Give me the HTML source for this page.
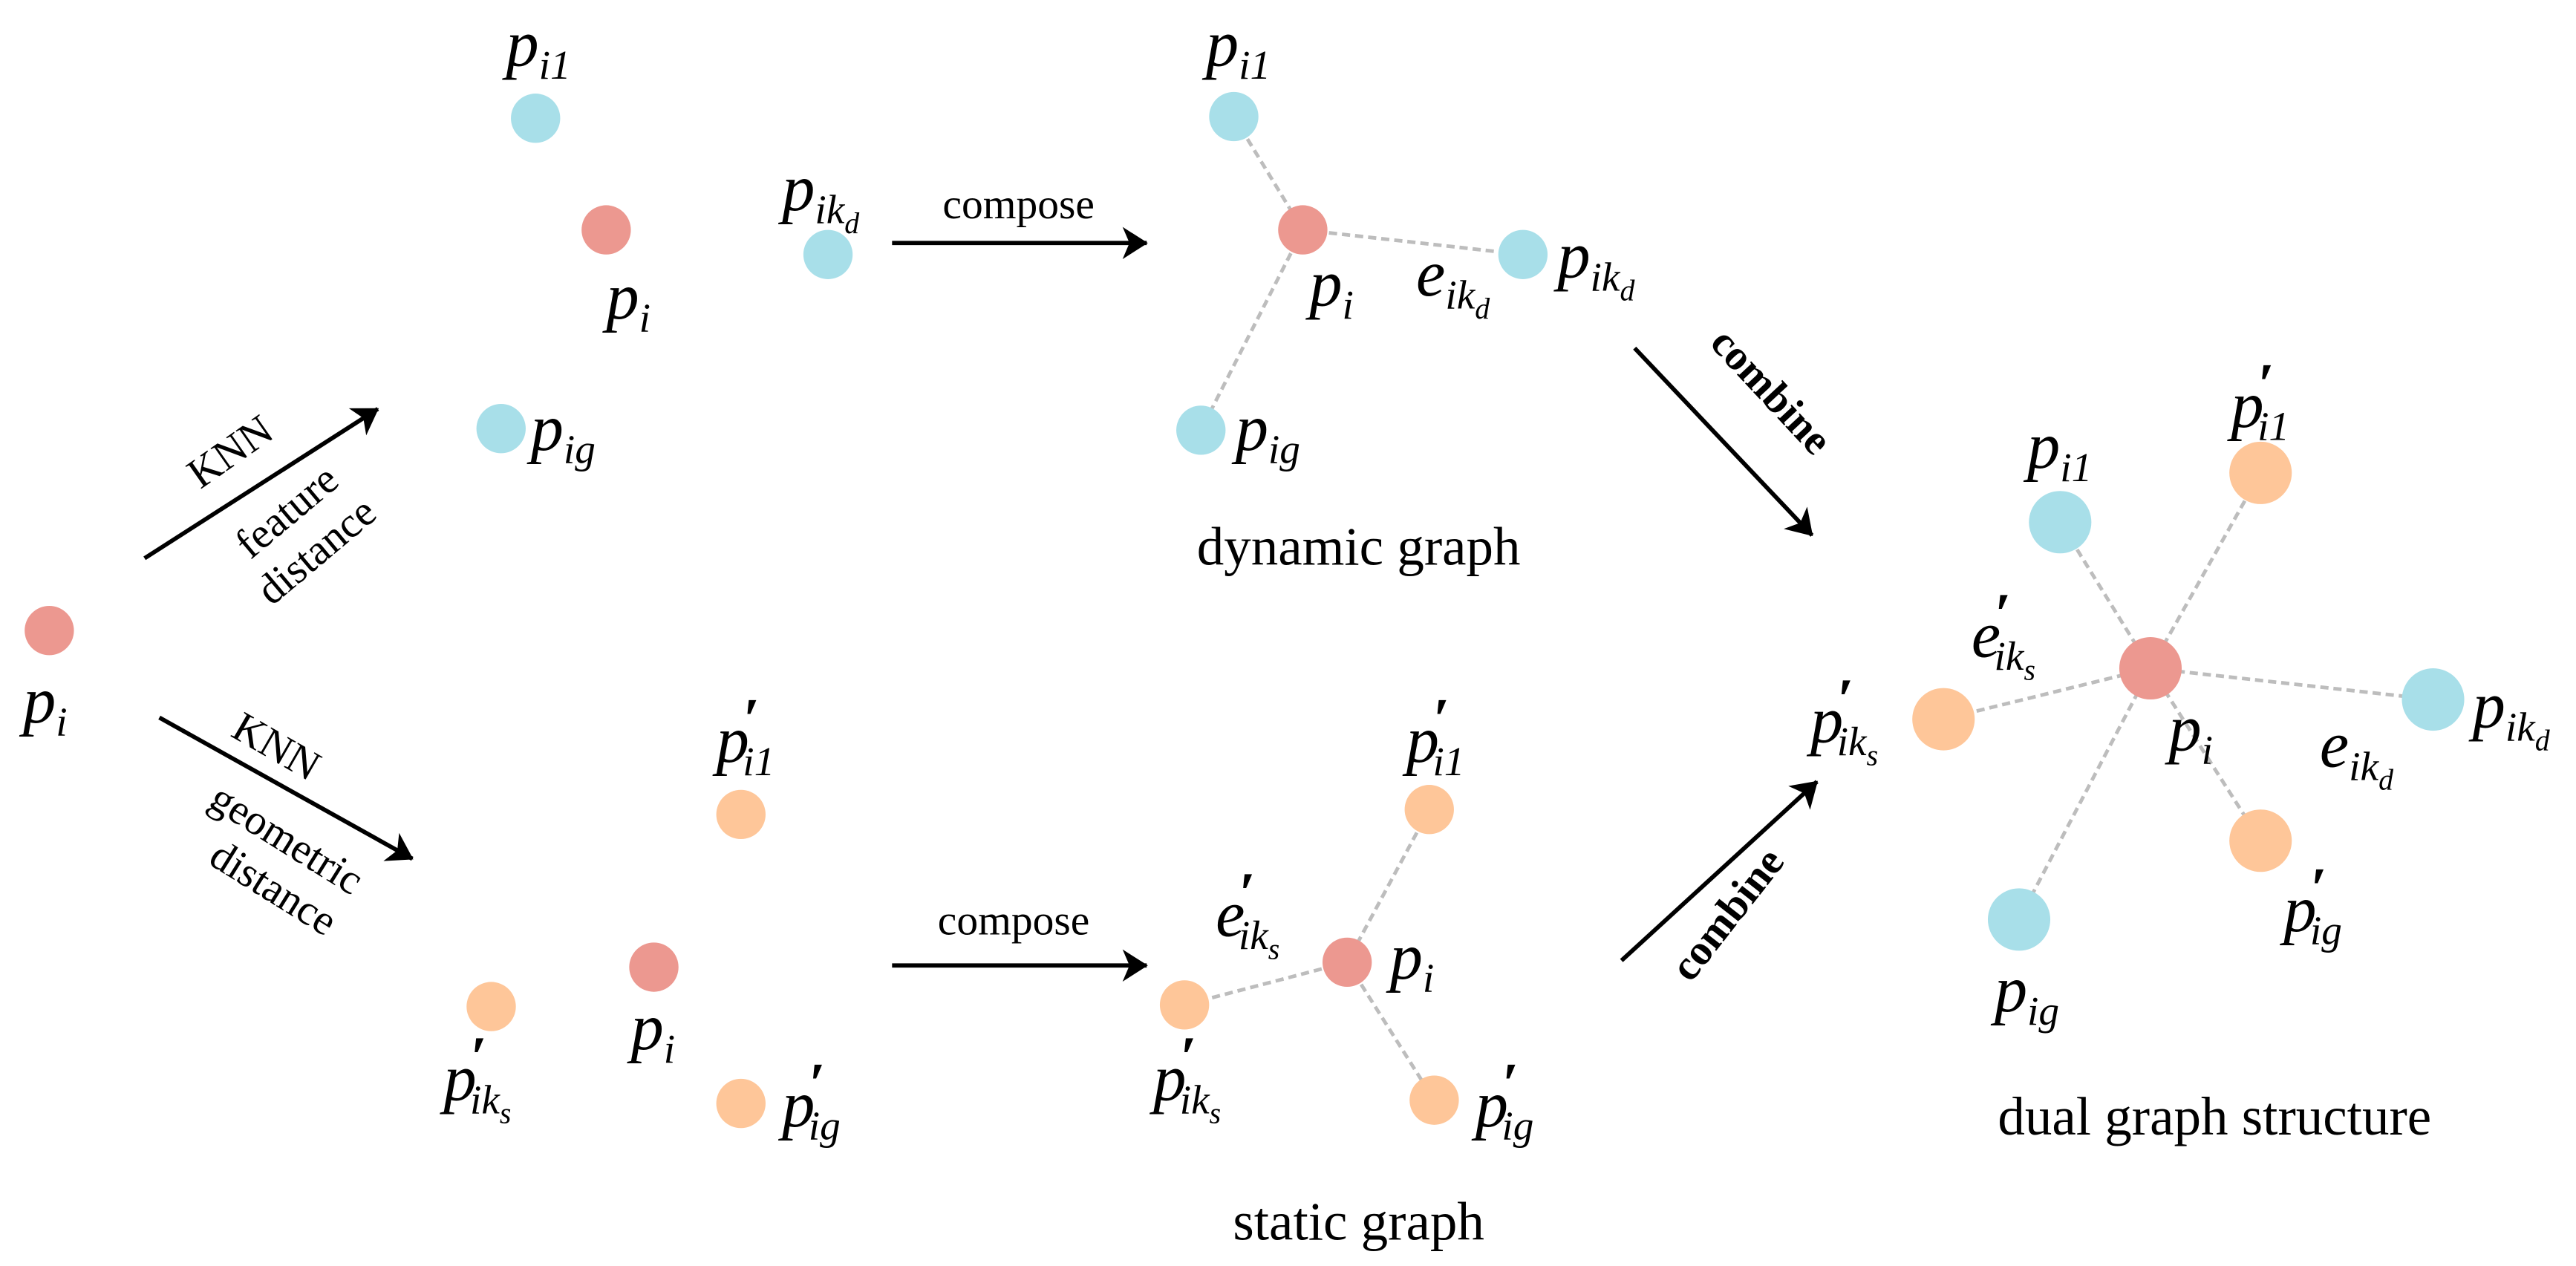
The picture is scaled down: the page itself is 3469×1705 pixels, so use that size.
<!DOCTYPE html>
<html><head><meta charset="utf-8"><style>
html,body{margin:0;padding:0;background:#fff;}
svg{display:block;}
text{font-family:"Liberation Serif","DejaVu Serif",serif;fill:#000;}
.m{font-style:italic;font-size:40px;}
.s{font-size:25px;}
.ss{font-size:18px;}
.pr{font-size:36px;font-weight:bold;}
.t{font-size:33px;}
.sm{font-size:26px;}
.d{stroke:#bdbdbd;stroke-width:2.2;stroke-dasharray:5 3;fill:none;}
.b{fill:#a8dfe9}.r{fill:#ec9890}.o{fill:#fec699}
.a{stroke:#000;stroke-width:2.6;fill:none;marker-end:url(#ah);}
</style></head><body>
<svg width="3469" height="1705" viewBox="0 0 1568 771" preserveAspectRatio="none">
<defs><marker id="ah" viewBox="0 0 10 10" refX="9" refY="5" markerWidth="7" markerHeight="7" orient="auto" markerUnits="userSpaceOnUse" style="overflow:visible"><path d="M-12,-9 L10,5 L-12,19 L-6,5 z" fill="#000"/></marker></defs>

<circle class="r" cx="30" cy="384" r="15"/>
<text class="m" x="14" y="440">p<tspan class="s" dy="8">i</tspan></text>

<line class="a" x1="88" y1="340" x2="230" y2="249"/>
<text class="sm" transform="translate(145,282) rotate(-35)" text-anchor="middle">KNN</text>
<text class="sm" transform="translate(180,318) rotate(-40)" text-anchor="middle">feature</text>
<text class="sm" transform="translate(198,342) rotate(-40)" text-anchor="middle">distance</text>
<line class="a" x1="97" y1="437" x2="251" y2="523"/>
<text class="sm" transform="translate(164,462) rotate(30)" text-anchor="middle">KNN</text>
<text class="sm" transform="translate(170,518) rotate(32)" text-anchor="middle">geometric</text>
<text class="sm" transform="translate(162,548) rotate(32)" text-anchor="middle">distance</text>

<circle class="b" cx="326" cy="72" r="15"/>
<text class="m" x="308" y="40">p<tspan class="s" dy="8">i1</tspan></text>
<circle class="r" cx="369" cy="140" r="15"/>
<text class="m" x="369" y="194">p<tspan class="s" dy="8">i</tspan></text>
<circle class="b" cx="504" cy="155" r="15"/>
<text class="m" x="476" y="128">p<tspan class="s" dy="8">ik</tspan><tspan class="ss" dy="6">d</tspan></text>
<circle class="b" cx="305" cy="261" r="15"/>
<text class="m" x="323" y="274">p<tspan class="s" dy="8">ig</tspan></text>

<line class="a" x1="543" y1="148" x2="698" y2="148"/>
<text class="sm" x="620" y="133" text-anchor="middle">compose</text>

<line class="d" x1="751" y1="71" x2="793" y2="140"/>
<line class="d" x1="793" y1="140" x2="927" y2="155"/>
<line class="d" x1="793" y1="140" x2="731" y2="262"/>
<circle class="b" cx="751" cy="71" r="15"/>
<text class="m" x="734" y="40">p<tspan class="s" dy="8">i1</tspan></text>
<circle class="r" cx="793" cy="140" r="15"/>
<text class="m" x="797" y="186">p<tspan class="s" dy="8">i</tspan></text>
<circle class="b" cx="927" cy="155" r="15"/>
<text class="m" x="948" y="169">p<tspan class="s" dy="8">ik</tspan><tspan class="ss" dy="6">d</tspan></text>
<text class="m" x="862" y="180">e<tspan class="s" dy="8">ik</tspan><tspan class="ss" dy="6">d</tspan></text>
<circle class="b" cx="731" cy="262" r="15"/>
<text class="m" x="752" y="274">p<tspan class="s" dy="8">ig</tspan></text>
<text class="t" x="827" y="344" text-anchor="middle">dynamic graph</text>

<circle class="o" cx="451" cy="496" r="15"/>
<text class="m" x="436" y="464">p<tspan class="pr" dx="-4" dy="-14">′</tspan><tspan class="s" dx="-10" dy="22">i1</tspan></text>
<circle class="r" cx="398" cy="589" r="15"/>
<text class="m" x="384" y="639">p<tspan class="s" dy="8">i</tspan></text>
<circle class="o" cx="299" cy="613" r="15"/>
<text class="m" x="270" y="670">p<tspan class="pr" dx="-4" dy="-14">′</tspan><tspan class="s" dx="-10" dy="22">ik</tspan><tspan class="ss" dy="6">s</tspan></text>
<circle class="o" cx="451" cy="672" r="15"/>
<text class="m" x="476" y="686">p<tspan class="pr" dx="-4" dy="-14">′</tspan><tspan class="s" dx="-10" dy="22">ig</tspan></text>

<line class="a" x1="543" y1="588" x2="698" y2="588"/>
<text class="sm" x="617" y="569" text-anchor="middle">compose</text>

<line class="d" x1="870" y1="493" x2="820" y2="586"/>
<line class="d" x1="820" y1="586" x2="721" y2="612"/>
<line class="d" x1="820" y1="586" x2="873" y2="670"/>
<circle class="o" cx="870" cy="493" r="15"/>
<text class="m" x="856" y="464">p<tspan class="pr" dx="-4" dy="-14">′</tspan><tspan class="s" dx="-10" dy="22">i1</tspan></text>
<circle class="r" cx="820" cy="586" r="15"/>
<text class="m" x="846" y="596">p<tspan class="s" dy="8">i</tspan></text>
<circle class="o" cx="721" cy="612" r="15"/>
<text class="m" x="702" y="670">p<tspan class="pr" dx="-4" dy="-14">′</tspan><tspan class="s" dx="-10" dy="22">ik</tspan><tspan class="ss" dy="6">s</tspan></text>
<circle class="o" cx="873" cy="670" r="15"/>
<text class="m" x="898" y="686">p<tspan class="pr" dx="-4" dy="-14">′</tspan><tspan class="s" dx="-10" dy="22">ig</tspan></text>
<text class="m" x="740" y="570">e<tspan class="pr" dx="-4" dy="-14">′</tspan><tspan class="s" dx="-10" dy="22">ik</tspan><tspan class="ss" dy="6">s</tspan></text>
<text class="t" x="827" y="755" text-anchor="middle">static graph</text>

<line class="a" x1="995" y1="212" x2="1103" y2="326"/>
<text class="sm" font-weight="bold" transform="translate(1072,244) rotate(47)" text-anchor="middle">combine</text>
<line class="a" x1="987" y1="585" x2="1106" y2="476"/>
<text class="sm" font-weight="bold" transform="translate(1058,562) rotate(-52)" text-anchor="middle">combine</text>

<line class="d" x1="1309" y1="407" x2="1254" y2="318"/>
<line class="d" x1="1309" y1="407" x2="1376" y2="288"/>
<line class="d" x1="1309" y1="407" x2="1481" y2="426"/>
<line class="d" x1="1309" y1="407" x2="1376" y2="512"/>
<line class="d" x1="1309" y1="407" x2="1229" y2="560"/>
<line class="d" x1="1309" y1="407" x2="1183" y2="438"/>
<circle class="b" cx="1254" cy="318" r="19"/>
<text class="m" x="1234" y="285">p<tspan class="s" dy="8">i1</tspan></text>
<circle class="o" cx="1376" cy="288" r="19"/>
<text class="m" x="1358" y="260">p<tspan class="pr" dx="-4" dy="-14">′</tspan><tspan class="s" dx="-10" dy="22">i1</tspan></text>
<circle class="r" cx="1309" cy="407" r="19"/>
<text class="m" x="1320" y="457">p<tspan class="s" dy="8">i</tspan></text>
<circle class="b" cx="1481" cy="426" r="19"/>
<text class="m" x="1505" y="443">p<tspan class="s" dy="8">ik</tspan><tspan class="ss" dy="6">d</tspan></text>
<text class="m" x="1412" y="467">e<tspan class="s" dy="8">ik</tspan><tspan class="ss" dy="6">d</tspan></text>
<circle class="o" cx="1376" cy="512" r="19"/>
<text class="m" x="1390" y="567">p<tspan class="pr" dx="-4" dy="-14">′</tspan><tspan class="s" dx="-10" dy="22">ig</tspan></text>
<circle class="b" cx="1229" cy="560" r="19"/>
<text class="m" x="1214" y="616">p<tspan class="s" dy="8">ig</tspan></text>
<circle class="o" cx="1183" cy="438" r="19"/>
<text class="m" x="1102" y="452">p<tspan class="pr" dx="-4" dy="-14">′</tspan><tspan class="s" dx="-10" dy="22">ik</tspan><tspan class="ss" dy="6">s</tspan></text>
<text class="m" x="1200" y="400">e<tspan class="pr" dx="-4" dy="-14">′</tspan><tspan class="s" dx="-10" dy="22">ik</tspan><tspan class="ss" dy="6">s</tspan></text>
<text class="t" x="1348" y="691" text-anchor="middle">dual graph structure</text>
</svg>
</body></html>
